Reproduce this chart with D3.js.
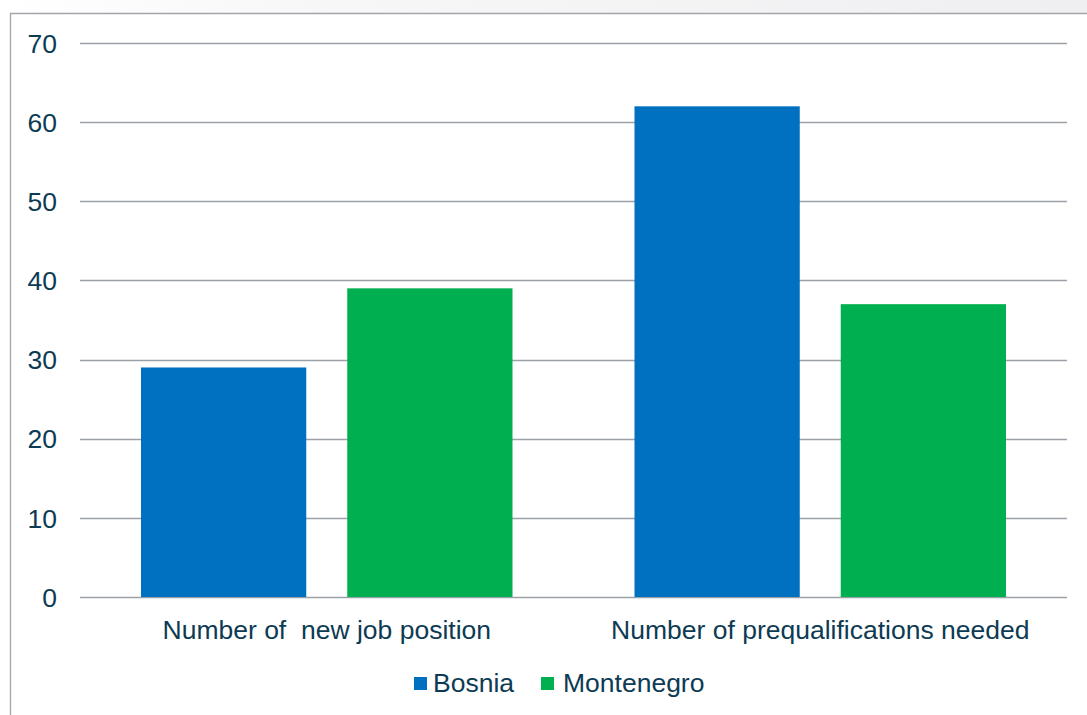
<!DOCTYPE html>
<html>
<head>
<meta charset="utf-8">
<script src="https://cdn.jsdelivr.net/npm/d3@7/dist/d3.min.js"></script>
<style>
  html, body { margin: 0; padding: 0; background: #fff; }
  svg { display: block; font-family: "Liberation Sans", Arial, sans-serif; }
</style>
</head>
<body>
<svg id="chart" width="1087" height="715"></svg>
<script>
// Survey results by country
const categories = ["Number of  new job position", "Number of prequalifications needed"];
const seriesNames = ["Bosnia", "Montenegro"];
const bosnia = [29, 62];
const montenegro = [39, 37];
const yTicks = [0, 10, 20, 30, 40, 50, 60, 70];
const colors = ["#0070c0", "#00b050"];

const svg = d3.select("#chart");
const W = 1087, H = 715;
const textColor = "#0d3b53";
const fontSize = "26.5px";

// faint header band above the frame
const defs = svg.append("defs");
const grad = defs.append("linearGradient").attr("id", "band").attr("x1", 0).attr("x2", 1);
grad.append("stop").attr("offset", "0%").attr("stop-color", "#ffffff");
grad.append("stop").attr("offset", "30%").attr("stop-color", "#f7f7f8");
grad.append("stop").attr("offset", "100%").attr("stop-color", "#efeff1");
svg.append("rect").attr("x", 0).attr("y", 0).attr("width", W).attr("height", 13).attr("fill", "url(#band)");

// outer frame (left and top edges)
svg.append("path")
  .attr("d", `M10.5,${H} V13.5 H${W}`)
  .attr("fill", "none").attr("stroke", "#a4a4ab").attr("stroke-width", 1.3);

const margin = { left: 80, right: 20, top: 43, bottom: 118 };
const x0 = d3.scaleBand().domain(categories).range([margin.left, W - margin.right]).paddingInner(0).paddingOuter(0);
const y = d3.scaleLinear().domain([0, 70]).range([H - margin.bottom, margin.top]);

// gridlines
svg.append("g").selectAll("line").data(yTicks).join("line")
  .attr("x1", margin.left).attr("x2", W - margin.right)
  .attr("y1", d => Math.round(y(d)) + 0.5).attr("y2", d => Math.round(y(d)) + 0.5)
  .attr("stroke", "#9ba1a6").attr("stroke-width", 1.5);

// y-axis labels
const yAxis = d3.axisLeft(y).tickValues(yTicks).tickSize(0).tickPadding(0);
const gy = svg.append("g").attr("transform", "translate(57,0)").call(yAxis);
gy.attr("font-size", null).attr("font-family", null);
gy.select(".domain").remove();
gy.selectAll("text").attr("fill", textColor).style("font-size", fontSize).attr("dy", "0.35em");

// bars
const groupPad = 61, barGap = 41;
const barW = (x0.bandwidth() - 2 * groupPad - barGap) / 2;
const rows = categories.map((c, i) => ({ c, vals: [bosnia[i], montenegro[i]] }));
const groups = svg.append("g").selectAll("g").data(rows).join("g")
  .attr("transform", d => `translate(${x0(d.c) + groupPad},0)`);
groups.selectAll("rect").data(d => d.vals).join("rect")
  .attr("x", (d, j) => j * (barW + barGap))
  .attr("y", d => y(d))
  .attr("width", barW)
  .attr("height", d => y(0) - y(d))
  .attr("fill", (d, j) => colors[j]);

// category labels
const xAxis = d3.axisBottom(x0).tickSize(0).tickPadding(0);
const gx = svg.append("g").attr("transform", "translate(0,639)").call(xAxis);
gx.attr("font-size", null).attr("font-family", null);
gx.select(".domain").remove();
gx.selectAll("text").attr("fill", textColor).style("font-size", fontSize)
  .attr("y", 0).attr("dy", 0).style("white-space", "pre").attr("xml:space", "preserve");

// legend
const legend = svg.append("g").attr("transform", "translate(414,692)");
const legendX = [0, 127];
seriesNames.forEach((name, i) => {
  const g = legend.append("g").attr("transform", `translate(${legendX[i]},0)`);
  g.append("rect").attr("x", 0).attr("y", -15).attr("width", 13).attr("height", 13).attr("fill", colors[i]);
  g.append("text").attr("x", 19 + (i ? 3 : 0)).attr("y", 0)
    .attr("fill", textColor).style("font-size", fontSize).text(name);
});
</script>
</body>
</html>
